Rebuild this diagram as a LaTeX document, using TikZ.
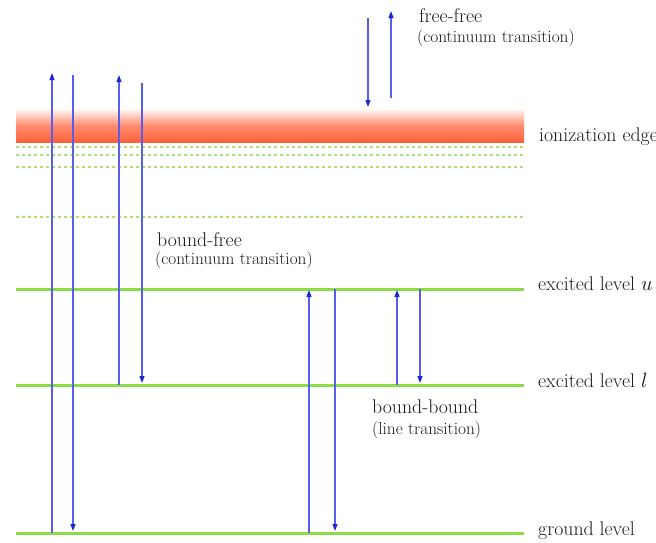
\documentclass[tikz,border=0pt]{standalone}
\usepackage{fontspec}
\usetikzlibrary{arrows.meta}
\definecolor{lvl}{RGB}{140,220,70}
\definecolor{dashlvl}{RGB}{165,228,115}
\definecolor{bandred}{RGB}{255,95,55}
\definecolor{arrline}{RGB}{85,95,235}
\definecolor{arrhead}{RGB}{30,40,210}
\definecolor{txt}{RGB}{25,25,25}
\begin{document}
\begin{tikzpicture}[x=1pt,y=-1pt,
  level/.style={draw=lvl, line width=3pt},
  sublevel/.style={draw=dashlvl, line width=1.5pt, dash pattern=on 3pt off 3pt},
  trans/.style={draw=arrline, line width=1.2pt, -{Triangle[length=7pt,width=5pt,color=arrhead]}},
  lbl/.style={anchor=base west, inner sep=0pt, font=\fontsize{19.8}{22}\selectfont\addfontfeature{FakeBold=0.3}, text=txt},
  sub/.style={anchor=base west, inner sep=0pt, font=\fontsize{17.3}{19}\selectfont\addfontfeature{FakeBold=0.3}, text=txt}]
\useasboundingbox (0,0) rectangle (656,542);
% ionization band
\shade[top color=white, bottom color=bandred, middle color=bandred!70] (16,108) rectangle (524,142);
% dashed sublevels
\coordinate (d1L) at (16,147); \coordinate (d1R) at (524,147);
\coordinate (d2L) at (16,155); \coordinate (d2R) at (524,155);
\coordinate (d3L) at (16,167); \coordinate (d3R) at (524,167);
\coordinate (d4L) at (16,217); \coordinate (d4R) at (524,217);
\draw[sublevel] (d1L) -- (d1R);
\draw[sublevel] (d2L) -- (d2R);
\draw[sublevel] (d3L) -- (d3R);
\draw[sublevel] (d4L) -- (d4R);
% levels
\coordinate (uL) at (16,289); \coordinate (uR) at (524,289);
\coordinate (lL) at (16,385); \coordinate (lR) at (524,385);
\coordinate (gL) at (16,533); \coordinate (gR) at (524,533);
\draw[level] (uL) -- (uR);
\draw[level] (lL) -- (lR);
\draw[level] (gL) -- (gR);
% labels
\node[lbl] (ion) at (539,141) {ionization edge};
\node[lbl] (exu) at (538,290) {excited level $u$};
\node[lbl] (exl) at (538,387) {excited level $l$};
\node[lbl] (gnd) at (538,535) {ground level};
\node[lbl] (ff) at (419,22) {free-free};
\node[sub] (ffs) at (417,42) {(continuum transition)};
\node[lbl] (bf) at (157,246) {bound-free};
\node[sub] (bfs) at (155,264) {(continuum transition)};
\node[lbl] (bb) at (372,413) {bound-bound};
\node[sub] (bbs) at (372,434) {(line transition)};
% transitions
\coordinate (a1s) at (52,533); \coordinate (a1e) at (52,73);
\coordinate (a2s) at (73,75);  \coordinate (a2e) at (73,531);
\coordinate (a3s) at (119,385); \coordinate (a3e) at (119,75);
\coordinate (a4s) at (142,83); \coordinate (a4e) at (142,383);
\coordinate (a5s) at (309,533); \coordinate (a5e) at (309,290);
\coordinate (a6s) at (335,289); \coordinate (a6e) at (335,531);
\coordinate (a7s) at (397,385); \coordinate (a7e) at (397,290);
\coordinate (a8s) at (420,289); \coordinate (a8e) at (420,383);
\coordinate (a9s) at (368,18); \coordinate (a9e) at (368,107);
\coordinate (a10s) at (391,98); \coordinate (a10e) at (391,11);
\draw[trans] (a1s) -- (a1e);
\draw[trans] (a2s) -- (a2e);
\draw[trans] (a3s) -- (a3e);
\draw[trans] (a4s) -- (a4e);
\draw[trans] (a5s) -- (a5e);
\draw[trans] (a6s) -- (a6e);
\draw[trans] (a7s) -- (a7e);
\draw[trans] (a8s) -- (a8e);
\draw[trans] (a9s) -- (a9e);
\draw[trans] (a10s) -- (a10e);
\end{tikzpicture}
\end{document}
